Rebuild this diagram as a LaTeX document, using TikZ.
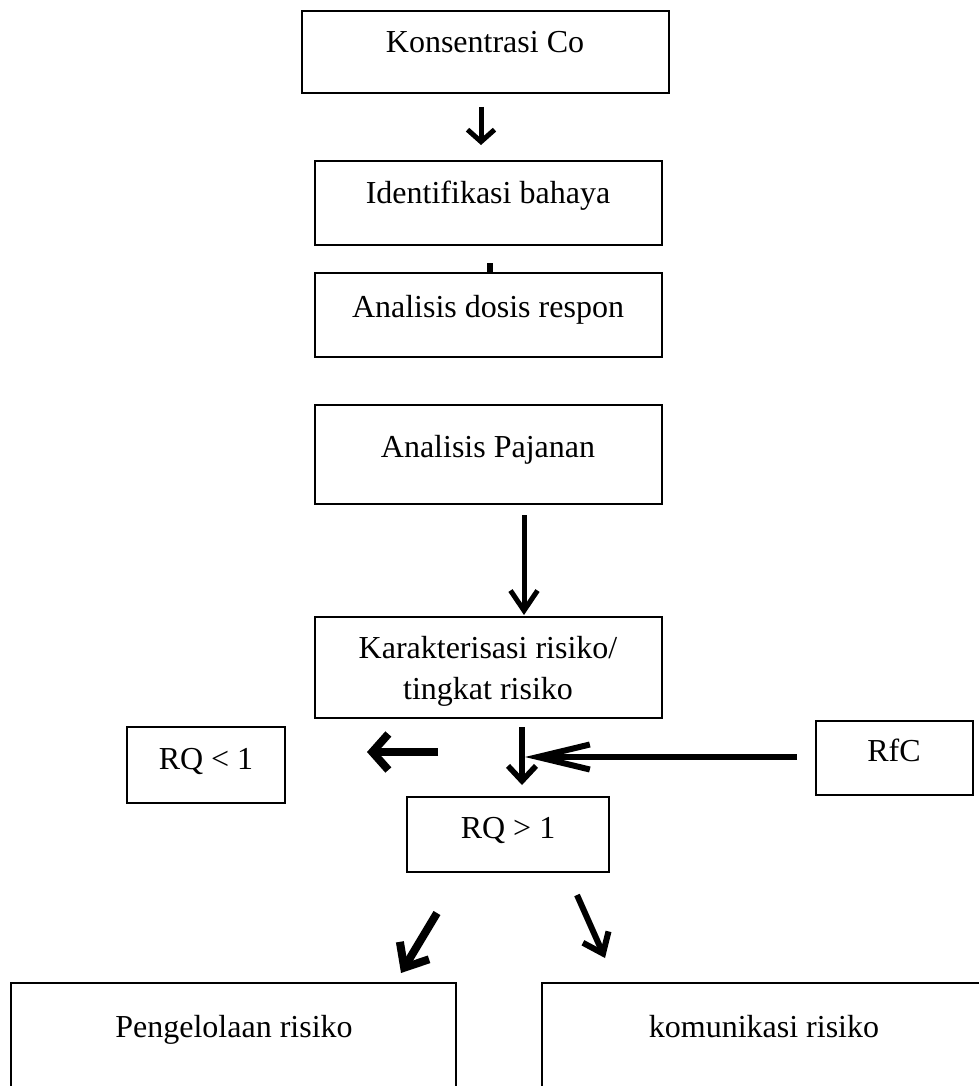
\documentclass[tikz,border=0pt]{standalone}
\usepackage{fontspec}
\setmainfont{Liberation Serif}
\usetikzlibrary{arrows.meta,fit}

\tikzset{
  kotak/.style={draw, line width=1.3pt, inner sep=0pt},
  teks/.style={inner sep=0pt, font=\fontsize{16}{20.5}\selectfont,
    text height=10.6pt, text depth=0pt},
  panah/.style 2 args={line width=#1, -{Straight Barb[#2]}},
}

\begin{document}
\begin{tikzpicture}[x=0.5pt,y=-0.5pt]
  \clip (0,0) rectangle (979,1086);
  % kotak-kotak
  \node[kotak, fit={(302,11) (669,93)}] (kons) {};
  \node[kotak, fit={(315,161) (662,245)}] (ident) {};
  \node[kotak, fit={(315,273) (662,357)}] (dosis) {};
  \node[kotak, fit={(315,405) (662,504)}] (pajanan) {};
  \node[kotak, fit={(315,617) (662,718)}] (karakter) {};
  \node[kotak, fit={(127,727) (285,803)}] (rqkecil) {};
  \node[kotak, fit={(816,721) (973,795)}] (rfc) {};
  \node[kotak, fit={(407,797) (609,872)}] (rqbesar) {};
  \node[kotak, fit={(11,983) (456,1100)}] (kelola) {};
  \node[kotak, fit={(542,983) (995,1100)}] (komunikasi) {};

  % teks
  \node[teks] (tkons) at (485,42) {Konsentrasi Co};
  \node[teks] (tident) at (488,193) {Identifikasi bahaya};
  \node[teks] (tdosis) at (488,307) {Analisis dosis respon};
  \node[teks] (tpajanan) at (488,447) {Analisis Pajanan};
  \node[teks] (tkar1) at (488,648) {Karakterisasi risiko/};
  \node[teks] (tkar2) at (488,689) {tingkat risiko};
  \node[teks] (trqkecil) at (206,759) {RQ < 1};
  \node[teks] (trfc) at (894,751) {RfC};
  \node[teks] (trqbesar) at (508,828) {RQ > 1};
  \node[teks] (tkelola) at (234,1027) {Pengelolaan risiko};
  \node[teks] (tkomunikasi) at (764,1027) {komunikasi risiko};

  % ujung panah
  \coordinate (a1s) at (481,107);  \coordinate (a1e) at (481,145);
  \coordinate (b1s) at (490,263);  \coordinate (b1e) at (490,273);
  \coordinate (a2s) at (524,515);  \coordinate (a2e) at (524,615);
  \coordinate (a3s) at (438,752);  \coordinate (a3e) at (367,752);
  \coordinate (a4s) at (522,727);  \coordinate (a4e) at (522,785);
  \coordinate (a5s) at (797,757);  \coordinate (a5e) at (525,757);
  \coordinate (a6s) at (437,913);  \coordinate (a6e) at (401,973);
  \coordinate (a7s) at (577,895);  \coordinate (a7e) at (605,958);

  % panah
  \draw[panah={2.5pt}{length=6pt,width=13.5pt}] (a1s) -- (a1e);
  \draw[line width=3pt] (b1s) -- (b1e);
  \draw[panah={2.5pt}{length=10pt,width=13.5pt}] (a2s) -- (a2e);
  \draw[panah={4pt}{length=8pt,width=18pt}] (a3s) -- (a3e);
  \draw[panah={2.8pt}{length=7.5pt,width=14pt}] (a4s) -- (a4e);
  \draw[panah={3pt}{length=26pt,width=12.5pt}] (a5s) -- (a5e);
  \draw[panah={4pt}{length=10pt,width=17pt}] (a6s) -- (a6e);
  \draw[panah={3pt}{length=9pt,width=14pt}] (a7s) -- (a7e);
\end{tikzpicture}
\end{document}
